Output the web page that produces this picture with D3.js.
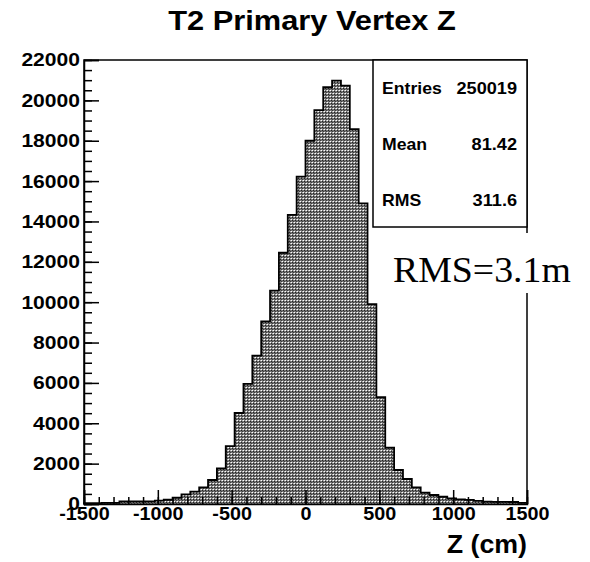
<!DOCTYPE html>
<html>
<head>
<meta charset="utf-8">
<script src="https://cdn.jsdelivr.net/npm/d3@7"></script>
<style>
  body { margin: 0; background: #fff; }
  text { font-family: "Liberation Sans", Arial, sans-serif; font-weight: bold; }
</style>
</head>
<body>
<div id="chart"></div>
<script>
var width = 590;
var height = 562;

// Histogram: 50 bins of 60 cm from -1500 to 1500
var binLow = -1500;
var binWidth = 60;
var counts = [40, 45, 55, 60, 130, 130, 130, 130, 170, 210,
              310, 480, 610, 825, 1190, 1770, 2870, 4510, 5950, 7350,
              9050, 10570, 12450, 14330, 16220, 18000, 19520, 20650, 20980, 20730,
              18570, 14900, 9900, 5290, 2790, 1685, 1240, 825, 560, 445,
              360, 280, 230, 200, 150, 120, 110, 105, 100, 60];

var xMajorTicks = [-1500, -1000, -500, 0, 500, 1000, 1500];
var yMajorTicks = [0, 2000, 4000, 6000, 8000, 10000, 12000, 14000, 16000, 18000, 20000, 22000];
var statLabels = ["Entries", "Mean", "RMS"];
var statValues = ["250019", "81.42", "311.6"];

var svg = d3.select("#chart")
    .append("svg")
    .attr("width", width)
    .attr("height", height);

var x = d3.scaleLinear().domain([-1500, 1500]).range([84, 527]);
var y = d3.scaleLinear().domain([0, 22000]).range([504, 60]);

// text that is a bit wider than the font, like the picture
function addText(px, py, str, size, anchor, sx) {
    return svg.append("text")
        .attr("transform", "translate(" + px + "," + py + ") scale(" + sx + ",1)")
        .attr("text-anchor", anchor)
        .attr("font-size", size)
        .text(str);
}

// ROOT style dotted fill
var defs = svg.append("defs");
var pat = defs.append("pattern")
    .attr("id", "dots")
    .attr("width", 3).attr("height", 3)
    .attr("patternUnits", "userSpaceOnUse");
pat.append("rect").attr("width", 3).attr("height", 3).attr("fill", "#737373");
pat.append("rect").attr("x", 0).attr("y", 0).attr("width", 1).attr("height", 1).attr("fill", "#fff");
pat.append("rect").attr("x", 1).attr("y", 1).attr("width", 1).attr("height", 1).attr("fill", "#222");
pat.append("rect").attr("x", 2).attr("y", 0).attr("width", 1).attr("height", 1).attr("fill", "#bbb");
pat.append("rect").attr("x", 2).attr("y", 2).attr("width", 1).attr("height", 1).attr("fill", "#3a3a3a");

// frame
svg.append("rect")
    .attr("x", x(-1500)).attr("y", y(22000))
    .attr("width", x(1500) - x(-1500)).attr("height", y(0) - y(22000))
    .attr("fill", "none").attr("stroke", "#000").attr("stroke-width", 1.5);

// step outline of the histogram
var steps = [];
counts.forEach(function(c, i) {
    var lo = binLow + i * binWidth;
    steps.push([lo, c]);
    steps.push([lo + binWidth, c]);
});

var area = d3.area()
    .x(function(d) { return x(d[0]); })
    .y0(y(0))
    .y1(function(d) { return y(d[1]); });
var line = d3.line()
    .x(function(d) { return x(d[0]); })
    .y(function(d) { return y(d[1]); });

svg.append("path")
    .datum(steps)
    .attr("d", area)
    .attr("fill", "url(#dots)");
svg.append("path")
    .datum([[binLow, 0]].concat(steps).concat([[binLow + counts.length * binWidth, 0]]))
    .attr("d", line)
    .attr("fill", "none")
    .attr("stroke", "#000")
    .attr("stroke-width", 1.8);

// y axis: minor ticks every 500, major every 2000, drawn inward
svg.append("g")
    .attr("transform", "translate(" + x(-1500) + ",0)")
    .call(d3.axisLeft(y).tickValues(d3.range(0, 22001, 500)).tickSize(-8).tickFormat(""))
    .call(function(g) { g.select(".domain").remove(); });
svg.append("g")
    .attr("transform", "translate(" + x(-1500) + ",0)")
    .call(d3.axisLeft(y).tickValues(yMajorTicks).tickSize(-15).tickPadding(0).tickFormat(function(d) { return String(d); }))
    .call(function(g) { g.select(".domain").attr("stroke-width", 1.5); })
    .selectAll("text")
    .attr("x", null)
    .attr("transform", "translate(-4,0) scale(1.14,1)")
    .attr("font-size", 18.5)
    .attr("font-family", "Liberation Sans, Arial, sans-serif")
    .attr("fill", "#000");

// x axis: minor every 100, major every 500, drawn upward
svg.append("g")
    .attr("transform", "translate(0," + y(0) + ")")
    .call(d3.axisBottom(x).tickValues(d3.range(-1500, 1501, 100)).tickSize(-7).tickFormat(""))
    .call(function(g) { g.select(".domain").remove(); });
svg.append("g")
    .attr("transform", "translate(0," + y(0) + ")")
    .call(d3.axisBottom(x).tickValues(xMajorTicks).tickSize(-14).tickPadding(3).tickFormat(function(d) { return String(d); }))
    .call(function(g) { g.select(".domain").attr("stroke-width", 1.5); })
    .selectAll("text")
    .attr("transform", "scale(1.07,1)")
    .attr("font-size", 18.5)
    .attr("font-family", "Liberation Sans, Arial, sans-serif")
    .attr("fill", "#000");

svg.selectAll(".tick line").attr("stroke-width", 1.5);

// title and axis title
addText(312, 30, "T2 Primary Vertex Z", 28, "middle", 1.1);
addText(527, 553, "Z (cm)", 26, "end", 1.03);

// stats box
svg.append("rect")
    .attr("x", 373).attr("y", 60)
    .attr("width", 154).attr("height", 167)
    .attr("fill", "#fff").attr("stroke", "#000").attr("stroke-width", 1.5);
var statY = [94, 150, 206];
statLabels.forEach(function(s, i) {
    addText(382, statY[i], s, 16.5, "start", 1.07);
    addText(517, statY[i], statValues[i], 16.5, "end", 1.1);
});

// annotation over the frame edge
svg.append("rect")
    .attr("x", 385).attr("y", 233)
    .attr("width", 200).attr("height", 60)
    .attr("fill", "#fff");
addText(393, 282, "RMS=3.1m", 36, "start", 1.05)
    .style("font-family", "Liberation Serif, Times New Roman, serif")
    .style("font-weight", "normal");
</script>
</body>
</html>
